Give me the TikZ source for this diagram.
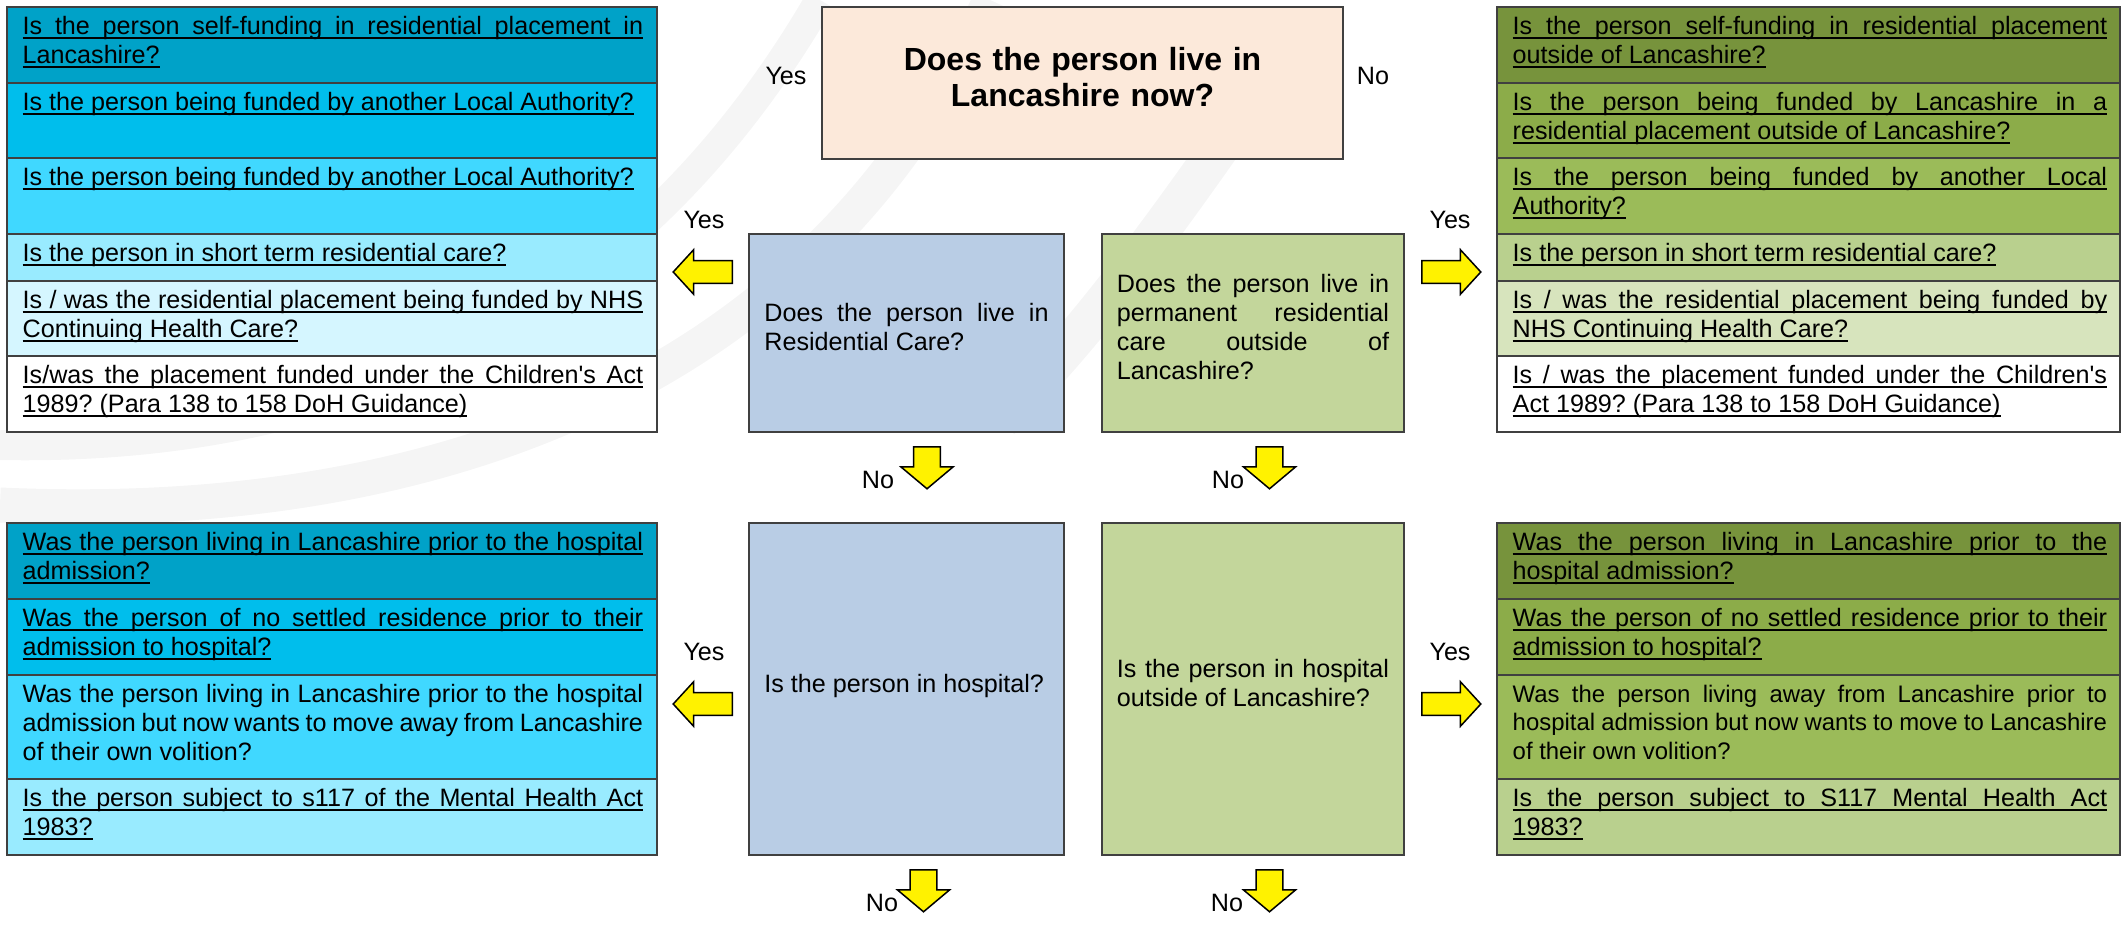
\documentclass[tikz,border=0pt]{standalone}
\usepackage{fontspec}
\setmainfont{Liberation Sans}
\usetikzlibrary{shapes.arrows}

\definecolor{tealA}{HTML}{00A2C8}
\definecolor{tealB}{HTML}{00BEEC}
\definecolor{tealC}{HTML}{40D8FF}
\definecolor{tealD}{HTML}{99EBFF}
\definecolor{tealE}{HTML}{D5F6FF}
\definecolor{oliveA}{HTML}{77933C}
\definecolor{oliveB}{HTML}{8CAC49}
\definecolor{oliveC}{HTML}{9BBB59}
\definecolor{oliveD}{HTML}{B9D08E}
\definecolor{oliveE}{HTML}{D7E4BD}
\definecolor{peach}{HTML}{FCE9DA}
\definecolor{qblue}{HTML}{B9CDE5}
\definecolor{qgreen}{HTML}{C3D69B}
\definecolor{edge}{HTML}{404040}
\definecolor{swirl}{HTML}{F5F5F5}

\newcommand{\qfont}{\fontsize{7.15pt}{8.2pt}\selectfont\tolerance=10000\hyphenpenalty=10000\exhyphenpenalty=10000}
\newcommand{\titlefont}{\fontsize{9.1pt}{10.25pt}\selectfont\bfseries}
\newcommand{\lowpad}{\rule[-1.2mm]{0pt}{0pt}}

% underlining that keeps justified line breaks
\newlength{\ulqdrop}\setlength{\ulqdrop}{0.22mm}
\newcommand{\ulqbar}{0.5pt}
\newcommand{\ulqword}[1]{\setbox0\hbox{#1}\rlap{\vrule height -\ulqdrop depth \dimexpr\ulqdrop+\ulqbar\relax width \wd0}\box0}
\newcommand{\ulqspace}{\leaders\hrule height -\ulqdrop depth \dimexpr\ulqdrop+\ulqbar\relax\hskip\fontdimen2\font plus\fontdimen3\font\relax}
\def\ulqloop#1 #2\ulqend{\ulqword{#1}\ifx\relax#2\relax\else\ulqspace\ulqloop#2\ulqend\fi}
\newcommand{\ulq}[1]{\ulqloop#1 \ulqend}

\begin{document}
\begin{tikzpicture}[
		x={(0.01cm,0cm)},
		y={(0cm,-0.01cm)},
		rowbox/.style={draw=edge,line width=0.16mm},
		rowtext/.style={anchor=north west,inner sep=0pt,align=justify,font=\qfont},
		qbox/.style={draw=edge,line width=0.16mm,inner sep=0pt,align=justify,font=\qfont},
		lbl/.style={inner sep=0pt,font=\qfont},
		sidearrow/.style={single arrow,draw=black,fill=yellow,line width=0.15mm,inner xsep=0pt,inner ysep=1.05mm,single arrow head extend=1.1mm,single arrow tip angle=95,minimum height=5.9mm,anchor=tail},
		downarrow/.style={single arrow,draw=black,fill=yellow,line width=0.15mm,inner xsep=0pt,inner ysep=1.27mm,single arrow head extend=1.25mm,single arrow tip angle=100,minimum height=4.2mm,anchor=tail,rotate=-90},
	]
		\useasboundingbox (0,0) rectangle (2125,943);
		
		% faint watermark bands
		\draw[swirl,line width=3mm] (0,445) .. controls (360,452) and (640,310) .. (820,0);
		\draw[swirl,line width=3.5mm] (0,505) .. controls (440,525) and (820,380) .. (990,0);
		\draw[swirl,line width=4mm] (1000,420) .. controls (1080,340) and (1150,250) .. (1280,60);
		
		% question boxes
		\node[qbox,fill=peach,minimum width=5.21cm,minimum height=1.52cm,text width=4.9cm,align=center,font=\titlefont] (livenow) at (1082.5,83) {Does the person live in\\Lancashire now?\lowpad};
		\node[qbox,fill=qblue,minimum width=3.15cm,minimum height=1.98cm,text width=2.84cm] (rescare) at (906.5,333) {Does the person live in Residential Care?\lowpad};
		\node[qbox,fill=qgreen,minimum width=3.02cm,minimum height=1.98cm,text width=2.72cm] (permout) at (1253,333) {Does the person live in\linebreak permanent residential care outside of\linebreak Lancashire?\lowpad};
		\node[qbox,fill=qblue,minimum width=3.15cm,minimum height=3.32cm,text width=2.84cm] (inhosp) at (906.5,689) {Is the person in hospital?\lowpad};
		\node[qbox,fill=qgreen,minimum width=3.02cm,minimum height=3.32cm,text width=2.72cm] (hospout) at (1253,689) {Is the person in hospital outside of Lancashire?\lowpad};
		
		% top left table
		\foreach \ya/\yb/\c in {7/83/tealA, 83/158/tealB, 158/234/tealC, 234/281/tealD, 281/356/tealE, 356/432/white}{
			\draw[rowbox,fill=\c] (7,\ya) rectangle (657,\yb);
		}
		\node[rowtext,text width=6.2cm] (tl1) at (22,16) {\ulq{Is the person self-funding in residential placement in Lancashire?}};
		\node[rowtext,text width=6.2cm] (tl2) at (22,92) {\ulq{Is the person being funded by another Local Authority?}};
		\node[rowtext,text width=6.2cm] (tl3) at (22,167) {\ulq{Is the person being funded by another Local Authority?}};
		\node[rowtext,text width=6.2cm] (tl4) at (22,243) {\ulq{Is the person in short term residential care?}};
		\node[rowtext,text width=6.2cm] (tl5) at (22,290) {\ulq{Is / was the residential placement being funded by NHS Continuing Health Care?}};
		\node[rowtext,text width=6.2cm] (tl6) at (22,365) {\ulq{Is/was the placement funded under the Children\textquotesingle s Act 1989? (Para 138 to 158 DoH Guidance)}};
		
		% top right table
		\foreach \ya/\yb/\c in {7/83/oliveA, 83/158/oliveB, 158/234/oliveC, 234/281/oliveD, 281/356/oliveE, 356/432/white}{
			\draw[rowbox,fill=\c] (1497,\ya) rectangle (2120,\yb);
		}
		\node[rowtext,text width=5.94cm] (tr1) at (1512,16) {\ulq{Is the person self-funding in residential placement outside of Lancashire?}};
		\node[rowtext,text width=5.94cm] (tr2) at (1512,92) {\ulq{Is the person being funded by Lancashire in a residential placement outside of Lancashire?}};
		\node[rowtext,text width=5.94cm] (tr3) at (1512,167) {\ulq{Is the person being funded by another Local Authority?}};
		\node[rowtext,text width=5.94cm] (tr4) at (1512,243) {\ulq{Is the person in short term residential care?}};
		\node[rowtext,text width=5.94cm] (tr5) at (1512,290) {\ulq{Is / was the residential placement being funded by NHS Continuing Health Care?}};
		\node[rowtext,text width=5.94cm] (tr6) at (1512,365) {\ulq{Is / was the placement funded under the Children\textquotesingle s Act 1989? (Para 138 to 158 DoH Guidance)}};
		
		% bottom left table
		\foreach \ya/\yb/\c in {523/599/tealA, 599/675/tealB, 675/779/tealC, 779/855/tealD}{
			\draw[rowbox,fill=\c] (7,\ya) rectangle (657,\yb);
		}
		\node[rowtext,text width=6.2cm] (bl1) at (22,532) {\ulq{Was the person living in Lancashire prior to the hospital admission?}};
		\node[rowtext,text width=6.2cm] (bl2) at (22,608) {\ulq{Was the person of no settled residence prior to their admission to hospital?}};
		\node[rowtext,text width=6.2cm] (bl3) at (22,684) {Was the person living in Lancashire prior to the hospital admission but now wants to move away from Lancashire of their own volition?};
		\node[rowtext,text width=6.2cm] (bl4) at (22,788) {\ulq{Is the person subject to s117 of the Mental Health Act 1983?}};
		
		% bottom right table
		\foreach \ya/\yb/\c in {523/599/oliveA, 599/675/oliveB, 675/779/oliveC, 779/855/oliveD}{
			\draw[rowbox,fill=\c] (1497,\ya) rectangle (2120,\yb);
		}
		\node[rowtext,text width=5.94cm] (br1) at (1512,532) {\ulq{Was the person living in Lancashire prior to the hospital admission?}};
		\node[rowtext,text width=5.94cm] (br2) at (1512,608) {\ulq{Was the person of no settled residence prior to their admission to hospital?}};
		\node[rowtext,text width=5.94cm,font=\qfont\fontsize{6.8pt}{8.2pt}\selectfont] (br3) at (1512,684) {Was the person living away from Lancashire prior to hospital admission but now wants to move to Lancashire of their own volition?};
		\node[rowtext,text width=5.94cm] (br4) at (1512,788) {\ulq{Is the person subject to S117 Mental Health Act 1983?}};
		
		% yes / no arrows
		\node[sidearrow,rotate=180] (yesL1) at (733,272) {};
		\node[sidearrow] (yesR1) at (1421,272) {};
		\node[sidearrow,rotate=180] (yesL2) at (733,704) {};
		\node[sidearrow] (yesR2) at (1421,704) {};
		\node[downarrow] (noL1) at (927,446) {};
		\node[downarrow] (noR1) at (1269.5,446) {};
		\node[downarrow] (noL2) at (923.5,869) {};
		\node[downarrow] (noR2) at (1269.5,869) {};
		
		% labels
		\node[lbl] (yesTop) at (786,76) {Yes};
		\node[lbl] (noTop) at (1373,76) {No};
		\node[lbl] (yesL1t) at (704,220) {Yes};
		\node[lbl] (yesR1t) at (1450,220) {Yes};
		\node[lbl] (yesL2t) at (704,652) {Yes};
		\node[lbl] (yesR2t) at (1450,652) {Yes};
		\node[lbl] (noL1t) at (878,480) {No};
		\node[lbl] (noR1t) at (1228,480) {No};
		\node[lbl] (noL2t) at (882,903) {No};
		\node[lbl] (noR2t) at (1227,903) {No};
	\end{tikzpicture}
\end{document}
